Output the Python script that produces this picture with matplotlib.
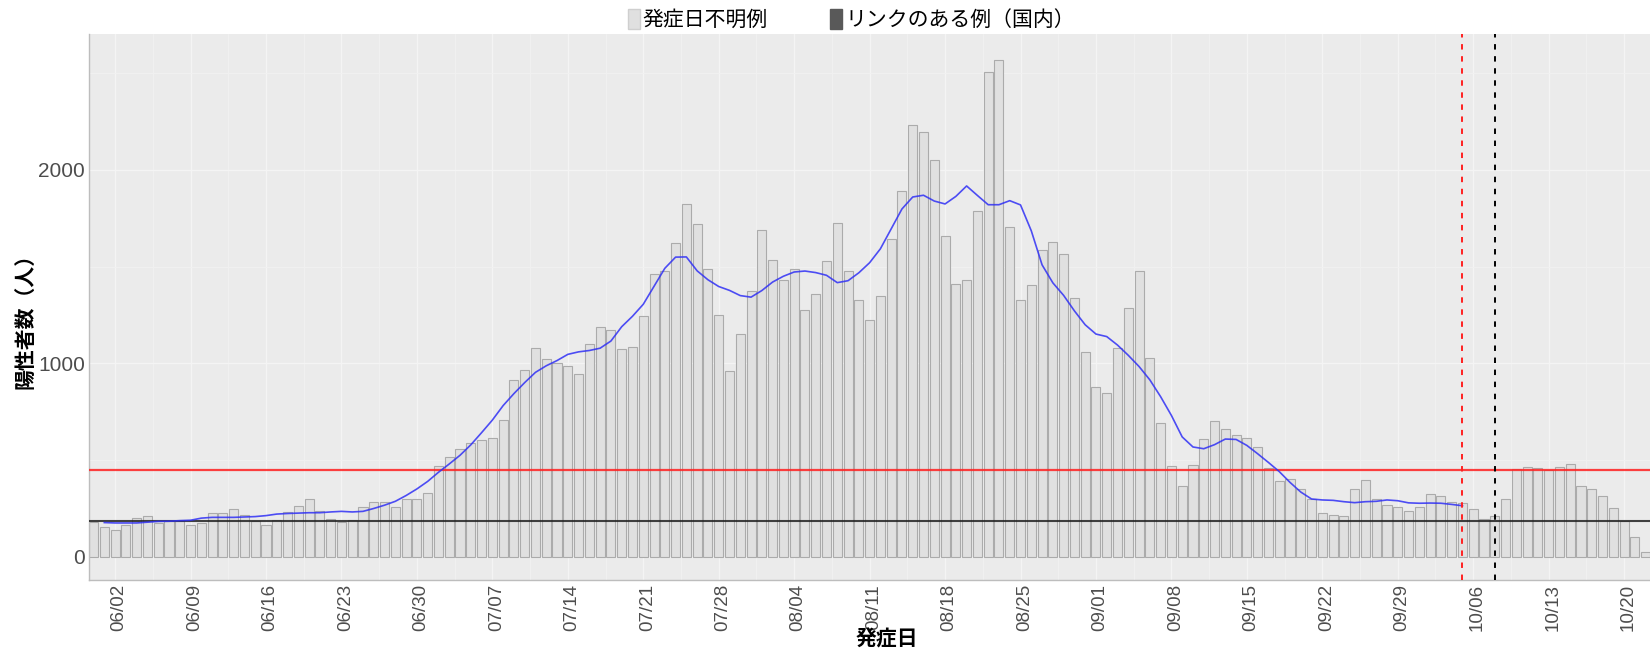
import pandas as pd
import matplotlib
matplotlib.use("Agg")
import matplotlib.pyplot as plt
import matplotlib.dates as mdates
import matplotlib.transforms as mtransforms
from matplotlib.patches import Patch

plt.rcParams['font.family'] = ['Liberation Sans', 'Noto Sans CJK JP', 'DejaVu Sans']
jp_font = ['Noto Sans CJK JP', 'DejaVu Sans']

# daily cases with unknown onset link, one bar per day starting 05/31
start_date = "2021-05-31"
counts = [
    180, 154, 137, 162, 201, 209, 172, 183, 183, 162,
    172, 223, 223, 244, 215, 183, 162, 188, 232, 263,
    296, 237, 195, 180, 188, 257, 283, 280, 257, 299,
    296, 330, 468, 517, 554, 585, 602, 613, 707, 911,
    967, 1079, 1024, 999, 985, 946, 1098, 1188, 1174, 1074,
    1084, 1243, 1463, 1475, 1622, 1826, 1722, 1490, 1252, 960,
    1153, 1374, 1691, 1532, 1429, 1490, 1274, 1360, 1527, 1725,
    1479, 1329, 1222, 1348, 1643, 1891, 2234, 2197, 2049, 1660,
    1412, 1433, 1785, 2506, 2571, 1707, 1329, 1407, 1584, 1627,
    1567, 1339, 1057, 878, 847, 1081, 1288, 1477, 1029, 689,
    468, 367, 473, 608, 702, 662, 627, 616, 566, 460,
    390, 403, 348, 298, 223, 215, 209, 352, 394, 296,
    265, 254, 234, 259, 324, 314, 280, 275, 245, 192,
    211, 296, 452, 464, 459, 447, 464, 480, 365, 348,
    314, 249, 183, 103, 25,
]

# weekly average line, from 06/01 to 10/05
avg_start = "2021-06-01"
avg_values = [
    176, 174, 174, 174, 178, 182, 183, 186, 188, 199,
    203, 203, 203, 205, 207, 212, 220, 223, 225, 227,
    227, 231, 234, 231, 234, 249, 266, 286, 316, 350,
    389, 436, 479, 524, 578, 641, 706, 781, 843, 900,
    953, 987, 1014, 1046, 1059, 1066, 1078, 1115, 1189, 1243,
    1305, 1398, 1491, 1549, 1550, 1478, 1432, 1397, 1377, 1350,
    1342, 1376, 1420, 1450, 1472, 1477, 1469, 1455, 1417, 1427,
    1468, 1520, 1592, 1695, 1798, 1860, 1869, 1839, 1824, 1863,
    1917, 1868, 1820, 1820, 1841, 1819, 1685, 1509, 1416, 1351,
    1271, 1199, 1151, 1138, 1094, 1041, 983, 914, 827, 730,
    619, 567, 558, 579, 608, 606, 575, 532, 487, 440,
    384, 334, 298, 293, 291, 284, 279, 284, 286, 293,
    289, 278, 276, 277, 276, 270, 263,
]

# reference lines
red_level = 447
black_level = 183
red_date = "2021-10-05"
black_date = "2021-10-08"

# axis ticks and labels
tick_start = "2021-06-02"
tick_end = "2021-10-20"
y_ticks = [0, 1000, 2000]
y_minor = [500, 1500, 2500]
legend_labels = ["発症日不明例", "リンクのある例（国内）"]
x_title = "発症日"
y_title = "陽性者数（人）"

dates = pd.date_range(start_date, periods=len(counts), freq="D")
avg_dates = pd.date_range(avg_start, periods=len(avg_values), freq="D")
tick_dates = pd.date_range(tick_start, tick_end, freq="7D")

fig = plt.figure(figsize=(16.5, 6.5), dpi=100)
ax = fig.add_axes([89 / 1650, 70 / 650, 1 - 89 / 1650, 546 / 650])
ax.set_facecolor("#EBEBEB")
ax.set_axisbelow(True)

# bars
ax.bar(dates, counts, width=0.84, color="#E0E0E0", edgecolor="#ABABAB",
       linewidth=0.8, zorder=2)

# horizontal reference lines
ax.axhline(red_level, color="#FF2020", linewidth=1.6, alpha=0.85, zorder=3)
ax.axhline(black_level, color="#222222", linewidth=1.5, alpha=0.85, zorder=3)

# average line
ax.plot(avg_dates, avg_values, color="#3030F5", linewidth=1.2, alpha=0.85, zorder=4)

# vertical dashed lines
ax.axvline(pd.Timestamp(red_date), color="#FF2020", linewidth=1.4,
           linestyle=(0, (2.8, 3.4)), zorder=5)
ax.axvline(pd.Timestamp(black_date), color="black", linewidth=1.4,
           linestyle=(0, (2.8, 3.4)), zorder=5)

# ticks
ax.set_xticks(tick_dates)
ax.set_xticklabels([d.strftime("%m/%d") for d in tick_dates], rotation=90)
ax.set_xticks(tick_dates + pd.Timedelta(hours=84), minor=True)
ax.set_yticks(y_ticks)
ax.set_yticks(y_minor, minor=True)
ax.tick_params(axis="x", which="major", labelsize=13.5, colors="#4D4D4D", length=0, pad=3)
ax.tick_params(axis="y", which="major", labelsize=15, colors="#4D4D4D", length=0, pad=3)
ax.tick_params(which="minor", length=0)

# nudge the date labels a little to the right, like the original
shift = mtransforms.ScaledTranslation(4 / 100, 0, fig.dpi_scale_trans)
for lbl in ax.get_xticklabels():
    lbl.set_transform(lbl.get_transform() + shift)

# limits (after ticks, set_xticks can widen the view)
x0 = mdates.date2num(dates[0])
ax.set_xlim(x0 - 0.42, x0 + 144.4)
ax.set_ylim(-121, 2703)

ax.grid(which="major", color="#F4F4F4", linewidth=1.0)
ax.grid(which="minor", color="#F1F1F1", linewidth=0.6)

for side in ["top", "right"]:
    ax.spines[side].set_visible(False)
for side in ["left", "bottom"]:
    ax.spines[side].set_color("#BDBDBD")
    ax.spines[side].set_linewidth(1.0)

# axis titles
fig.text(25 / 1650, 1 - 316 / 650, y_title, rotation=90, ha="center", va="center",
         family=jp_font, fontweight="bold", fontsize=15)
fig.text(887 / 1650, 1 - 639 / 650, x_title, ha="center", va="center",
         family=jp_font, fontweight="bold", fontsize=15)

# legend
handles = [
    Patch(facecolor="#E0E0E0", edgecolor="#CFCFCF"),
    Patch(facecolor="#595959", edgecolor="#595959"),
]
fig.legend(handles, legend_labels, loc="center", bbox_to_anchor=(0.516, 0.969),
           ncol=2, frameon=False, handlelength=0.55, handleheight=1.1,
           handletextpad=0.15, columnspacing=3.0,
           prop={"family": jp_font, "size": 15})

fig.savefig("out.png", dpi=100)
